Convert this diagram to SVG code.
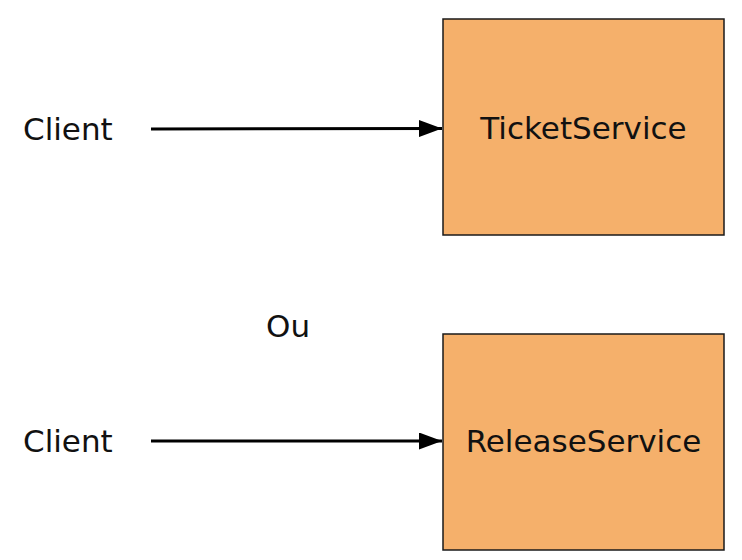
<svg xmlns="http://www.w3.org/2000/svg" width="742" height="560" viewBox="0 0 742 560">
<defs>
<style>
.box{fill:#f5b06b;stroke:#1a1a1a;stroke-width:1.5}
.t{font-family:"DejaVu Sans","Noto Sans",sans-serif;font-size:31px;fill:#111}
.edge{stroke:#000;stroke-width:3;fill:none}
</style>
<marker id="ah" viewBox="0 0 23 17" refX="23" refY="8.5" markerWidth="23" markerHeight="17" markerUnits="userSpaceOnUse" orient="auto">
<path d="M0,0 L23,8.5 L0,17 Z" fill="#000"/>
</marker>
</defs>
<rect width="742" height="560" fill="#fff"/>
<g id="client1"><text class="t" x="23" y="140">Client</text></g>
<g id="ticketservice"><rect class="box" x="443" y="19" width="281" height="216"/><text class="t" x="583.5" y="139" text-anchor="middle">TicketService</text></g>
<g id="ou"><text class="t" x="266" y="337">Ou</text></g>
<g id="client2"><text class="t" x="23" y="452">Client</text></g>
<g id="releaseservice"><rect class="box" x="443" y="334" width="281" height="216"/><text class="t" x="583.5" y="452" text-anchor="middle">ReleaseService</text></g>
<g id="connectors">
<line class="edge" x1="151" y1="129" x2="442" y2="128.5" marker-end="url(#ah)"/>
<line class="edge" x1="151" y1="441" x2="442" y2="441" marker-end="url(#ah)"/>
</g>
</svg>
